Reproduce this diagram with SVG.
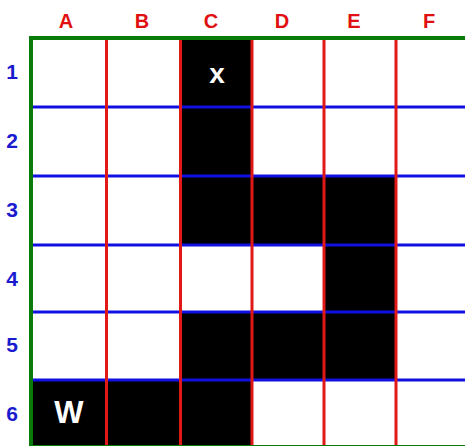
<svg xmlns="http://www.w3.org/2000/svg" width="465" height="446" viewBox="0 0 465 446">
<style>
.col{font-family:"Liberation Sans",Arial,sans-serif;font-weight:bold;font-size:20px;fill:#e01010;text-anchor:middle}
.row{font-family:"Liberation Sans",Arial,sans-serif;font-weight:bold;font-size:21px;fill:#1a1ad0;text-anchor:middle}
.cell{fill:#000}
.v{stroke:#e01818;stroke-width:3}
.h{stroke:#1010e0;stroke-width:3}
.mark{font-family:"Liberation Sans",Arial,sans-serif;font-weight:bold;fill:#fff;text-anchor:middle}
</style>
<rect x="0" y="0" width="465" height="446" fill="#fff"/>
<g id="column-labels">
<text class="col" x="66" y="28">A</text>
<text class="col" x="142" y="28">B</text>
<text class="col" x="211" y="28">C</text>
<text class="col" x="282" y="28">D</text>
<text class="col" x="354" y="28">E</text>
<text class="col" x="429" y="28">F</text>
</g>
<g id="row-labels">
<text class="row" x="12" y="79">1</text>
<text class="row" x="12" y="148">2</text>
<text class="row" x="12" y="217">3</text>
<text class="row" x="12" y="286">4</text>
<text class="row" x="12" y="352">5</text>
<text class="row" x="12" y="421">6</text>
</g>
<g id="black-cells">
<rect id="C1" class="cell" x="180" y="38" width="72" height="69"/>
<rect id="C2" class="cell" x="180" y="107" width="72" height="69"/>
<rect id="C3" class="cell" x="180" y="176" width="72" height="69"/>
<rect id="D3" class="cell" x="252" y="176" width="72" height="69"/>
<rect id="E3" class="cell" x="324" y="176" width="72" height="69"/>
<rect id="E4" class="cell" x="324" y="245" width="72" height="67"/>
<rect id="C5" class="cell" x="180" y="312" width="72" height="68"/>
<rect id="D5" class="cell" x="252" y="312" width="72" height="68"/>
<rect id="E5" class="cell" x="324" y="312" width="72" height="68"/>
<rect id="A6" class="cell" x="31" y="380" width="76" height="66"/>
<rect id="B6" class="cell" x="106" y="380" width="74" height="66"/>
<rect id="C6" class="cell" x="180" y="380" width="72" height="66"/>
</g>
<g id="grid-lines">
<line class="h" x1="31" y1="107" x2="465" y2="107"/>
<line class="h" x1="31" y1="176" x2="465" y2="176"/>
<line class="h" x1="31" y1="245" x2="465" y2="245"/>
<line class="h" x1="31" y1="312" x2="465" y2="312"/>
<line class="h" x1="31" y1="380" x2="465" y2="380"/>
<line class="v" x1="106.5" y1="38" x2="106.5" y2="446"/>
<line class="v" x1="180.5" y1="38" x2="180.5" y2="446"/>
<line class="v" x1="252" y1="38" x2="252" y2="446"/>
<line class="v" x1="324" y1="38" x2="324" y2="446"/>
<line class="v" x1="396" y1="38" x2="396" y2="446"/>
</g>
<g id="border">
<rect x="31" y="38" width="440" height="409" fill="none" stroke="#0a7a0a" stroke-width="4"/>
</g>
<g id="markers">
<text class="mark" x="217" y="83" font-size="28">x</text>
<text class="mark" x="69" y="423" font-size="31">W</text>
</g>
</svg>
